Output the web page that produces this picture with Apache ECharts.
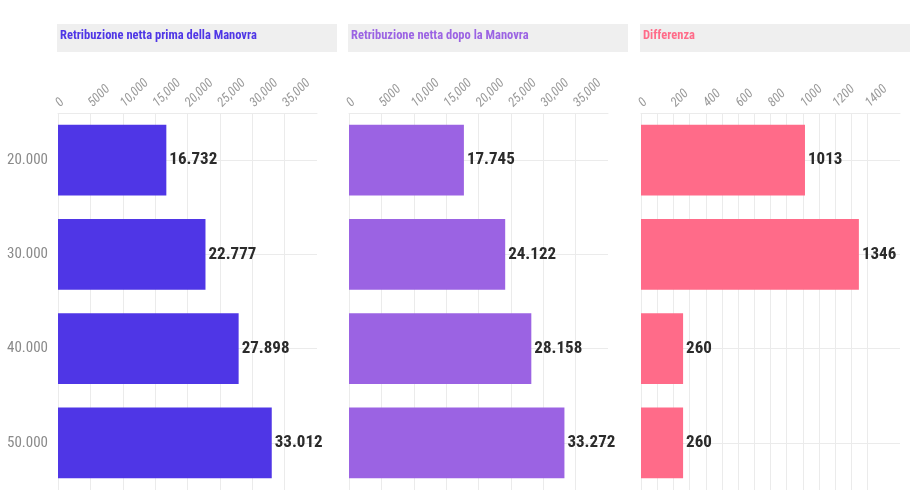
<!DOCTYPE html>
<html>
<head>
<meta charset="utf-8">
<script src="https://cdn.jsdelivr.net/npm/echarts@6/dist/echarts.min.js"></script>
<style>
  html, body { margin: 0; padding: 0; background: #fff; }
  #chart { width: 910px; height: 490px; }
</style>
</head>
<body>
<div id="chart"></div>
<script>
// dati
const redditi = ["20.000", "30.000", "40.000", "50.000"];
const prima = [16732, 22777, 27898, 33012];
const dopo = [17745, 24122, 28158, 33272];
const differenza = [1013, 1346, 260, 260];
const titoli = ["Retribuzione netta prima della Manovra", "Retribuzione netta dopo la Manovra", "Differenza"];
const colori = ["#4f36e6", "#9b63e3", "#ff6b89"];

const FONT = "'Roboto Condensed', 'Roboto', sans-serif";

function fmtTick(v) {
  return v >= 10000 ? v.toLocaleString("en-US") : String(v);
}
function fmtIt(v) {
  return v >= 10000 ? v.toLocaleString("it-IT") : String(v);
}

const grids = [
  { left: 58, top: 113, width: 259, height: 382 },
  { left: 349, top: 113, width: 259, height: 382 },
  { left: 641, top: 113, width: 259, height: 382 }
];

// griglia verticale: le ultime linee (oltre l'ultima etichetta) restano nascoste
function gridColors(n, visible) {
  let c = [];
  for (let i = 0; i < n; i++) c.push(i < visible ? "#ebebeb" : "rgba(0,0,0,0)");
  return c;
}

function makeX(idx, max, step, lastLabel, labelStep, nLines, nVisible) {
  return {
    gridIndex: idx,
    type: "value",
    position: "top",
    min: 0,
    max: max,
    interval: step,
    axisLine: { show: true, lineStyle: { color: "#ebebeb" } },
    axisTick: { show: false },
    splitLine: { show: true, lineStyle: { color: gridColors(nLines, nVisible), width: 1 } },
    axisLabel: {
      rotate: -45,
      margin: 8,
      color: "#9a9a9a",
      fontFamily: FONT,
      fontSize: 13,
      fontStyle: "italic",
      formatter: v => (v <= lastLabel && v % labelStep === 0) ? fmtTick(v) : ""
    }
  };
}

function makeY(idx, showLabel) {
  return {
    gridIndex: idx,
    type: "category",
    inverse: true,
    data: redditi,
    axisLine: { show: false },
    axisTick: { show: false },
    splitLine: { show: true, alignWithLabel: true, lineStyle: { color: "#ebebeb" } },
    axisLabel: {
      show: showLabel,
      color: "#8a8a8a",
      fontFamily: FONT,
      fontSize: 15,
      margin: 10
    }
  };
}

function makeSeries(idx, values) {
  return {
    type: "bar",
    xAxisIndex: idx,
    yAxisIndex: idx,
    data: values,
    barCategoryGap: "25%",
    itemStyle: { color: colori[idx] },
    label: {
      show: true,
      position: "right",
      distance: 3,
      color: "#2b2b2b",
      fontFamily: FONT,
      fontWeight: "bold",
      fontSize: 17,
      formatter: p => fmtIt(p.value)
    }
  };
}

const titleBoxes = [
  { x: 57, w: 280 },
  { x: 348, w: 280 },
  { x: 640, w: 270 }
];

const graphic = [];
titleBoxes.forEach((b, i) => {
  graphic.push({
    type: "rect",
    left: b.x, top: 24,
    shape: { width: b.w, height: 28 },
    style: { fill: "#efefef" },
    z: 0
  });
  graphic.push({
    type: "text",
    left: b.x + 3, top: 29,
    style: {
      text: titoli[i],
      fill: colori[i],
      font: "bold 12.5px " + FONT
    },
    z: 1
  });
});

const option = {
  backgroundColor: "#fff",
  animation: false,
  grid: grids,
  xAxis: [
    makeX(0, 40000, 5000, 35000, 5000, 9, 8),
    makeX(1, 40000, 5000, 35000, 5000, 9, 8),
    makeX(2, 1600, 100, 1400, 200, 17, 15)
  ],
  yAxis: [makeY(0, true), makeY(1, false), makeY(2, false)],
  series: [makeSeries(0, prima), makeSeries(1, dopo), makeSeries(2, differenza)],
  graphic: graphic
};

const chart = echarts.init(document.getElementById("chart"));
chart.setOption(option);
</script>
</body>
</html>
